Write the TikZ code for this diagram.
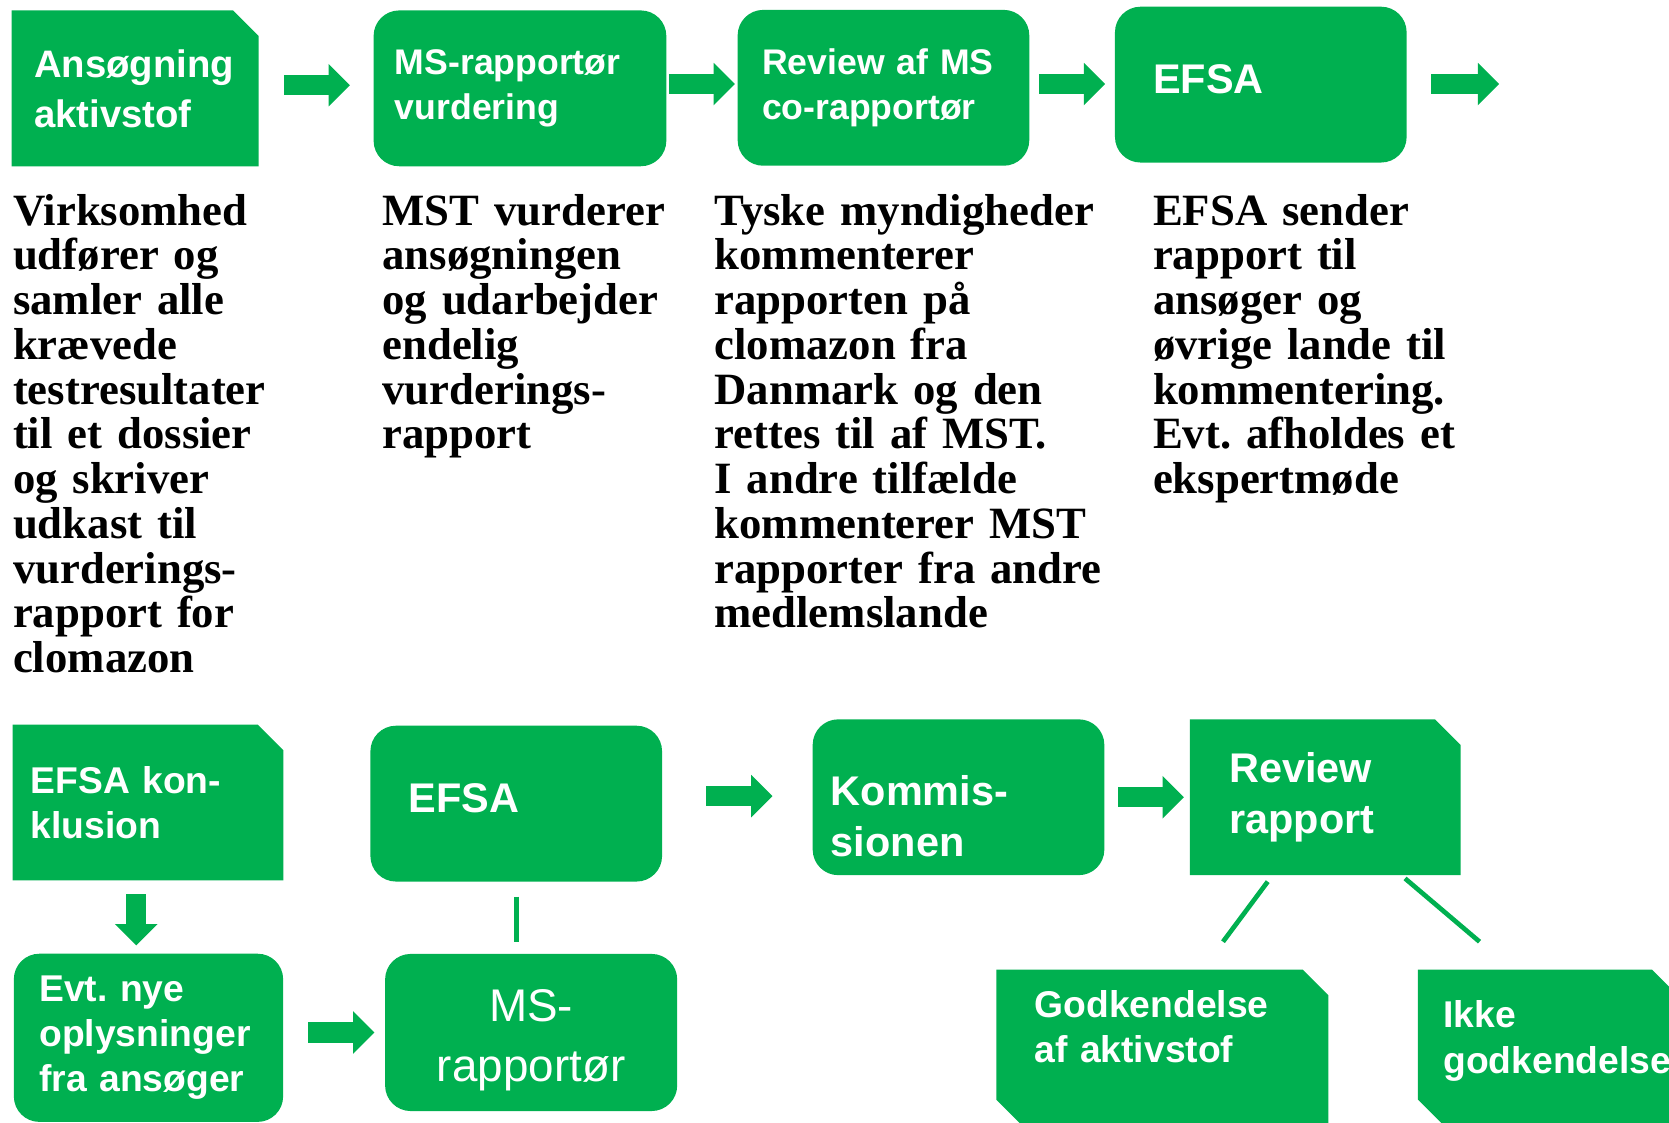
\documentclass[tikz,border=0pt]{standalone}
\usepackage{fontspec}
\setmainfont{Liberation Serif}[WordSpace=0.8]
\newfontfamily\boxfont{Liberation Sans}
\usepackage{tikz}
\usetikzlibrary{arrows.meta}
\definecolor{msgreen}{HTML}{00B050}
\hyphenpenalty=10000
\frenchspacing
\newcommand{\blockarrow}{-{Triangle[length=5mm,width=10mm,line width=0pt]}}
\newcommand{\bodytext}{\bfseries\fontsize{29.9pt}{29.9pt}\selectfont}
\tikzset{
  box/.style={rectangle,inner sep=0pt,text=white,align=left,minimum height=36.6mm},
  roundbox/.style={box,fill=msgreen,rounded corners=6mm},
  snipbox/.style={box,fill=white,path picture={
    \fill[msgreen] (path picture bounding box.south west)
      |- ([xshift=-6mm]path picture bounding box.north east)
      -- ([yshift=-6mm]path picture bounding box.north east)
      -- (path picture bounding box.south east) -- cycle;}},
  snipsnipbox/.style={box,fill=white,path picture={
    \fill[msgreen] ([yshift=6mm]path picture bounding box.south west)
      |- ([xshift=-6mm]path picture bounding box.north east)
      -- ([yshift=-6mm]path picture bounding box.north east)
      -- (path picture bounding box.south east)
      -- ([xshift=6mm]path picture bounding box.south west) -- cycle;}},
  txtsmall/.style={font=\boxfont\bfseries\fontsize{23.8pt}{29.9pt}\selectfont},
  txtmid/.style={font=\boxfont\bfseries\fontsize{24.9pt}{29.9pt}\selectfont},
  txtbig/.style={font=\boxfont\bfseries\fontsize{27.7pt}{34.1pt}\selectfont},
  flow/.style={msgreen,line width=4.75mm},
  link/.style={msgreen,line width=1.1mm},
  note/.style={anchor=base west,inner sep=0pt,align=left,text width=75mm,font=\bodytext}
}

\begin{document}
\begin{tikzpicture}[x=0.25mm,y=-0.25mm]
	\useasboundingbox (0,0) rectangle (1568,1055);
	\clip (0,0) rectangle (1568,1055);
	% top row
	\node[snipbox,minimum width=58mm,text width=47.5mm,font=\boxfont\bfseries\fontsize{25.6pt}{33.4pt}\selectfont] (ans) at (127,83) {Ansøgning\\aktivstof};
	\node[roundbox,txtsmall,minimum width=68.75mm,text width=58.75mm] (vurd) at (488.5,83) {MS-rapportør\\vurdering};
	\node[roundbox,txtsmall,minimum width=68.5mm,text width=57mm] (co) at (830,82.5) {Review af MS\\co-rapportør};
	\node[roundbox,txtbig,minimum width=68.5mm,text width=50.5mm] (efsaA) at (1184.5,79.5) {EFSA\rule[-2.75mm]{0pt}{2.75mm}};
	\coordinate (next) at (1408.4,79);
	\node[note] (virk) at (12,211.5) {Virksomhed\\udfører og\\samler alle\\krævede\\testresultater\\til et dossier\\og skriver\\udkast til\\vurderings-\\rapport for\\clomazon};
	\node[note] (mst) at (359,211.5) {MST vurderer\\ansøgningen\\og udarbejder\\endelig\\vurderings-\\rapport};
	\node[note,text width=95mm] (tysk) at (671,211.5) {Tyske myndigheder\\kommenterer\\rapporten på\\clomazon fra\\Danmark og den\\rettes til af MST.\\I andre tilfælde\\kommenterer MST\\rapporter fra andre\\medlemslande};
	\node[note] (send) at (1083,211.5) {EFSA sender\\rapport til\\ansøger og\\øvrige lande til\\kommentering.\\Evt. afholdes et\\ekspertmøde};
	\draw[flow,\blockarrow] ([shift={(23.3,-3)}]ans.east) -- ([shift={(-22,-3)}]vurd.west);
	\draw[flow,\blockarrow] ([shift={(2,-4)}]vurd.east) -- ([shift={(-2.3,-3.5)}]co.west);
	\draw[flow,\blockarrow] ([shift={(8.8,-3.5)}]co.east) -- ([shift={(-9,-0.5)}]efsaA.west);
	\draw[flow,\blockarrow] ([shift={(23,-0.5)}]efsaA.east) -- (next);
	% bottom row
	\node[snipbox,txtmid,minimum width=63.6mm,text width=55.1mm] (konkl) at (139,754) {EFSA kon-\\klusion};
	\node[roundbox,txtmid,minimum width=63.25mm,minimum height=39.5mm,text width=51.25mm] (nye) at (139.5,975) {Evt. nye\\oplysninger\\fra ansøger};
	\node[roundbox,txtbig,minimum width=68.5mm,text width=50.5mm] (efsaB) at (485,755) {EFSA\rule[-2.75mm]{0pt}{2.75mm}};
	\node[roundbox,align=center,minimum width=68.6mm,minimum height=36.9mm,text width=60mm,font=\boxfont\fontsize{30.6pt}{39.8pt}\selectfont] (msr) at (499,970) {\rule{0pt}{11.2mm}MS-\\rapportør};
	\node[roundbox,txtbig,minimum width=68.5mm,text width=60mm] (komm) at (900.5,749) {\rule{0pt}{16mm}Kommis-\\sionen};
	\node[snipbox,txtbig,minimum width=63.6mm,text width=45.1mm] (rev) at (1245,749) {Review\\rapport};
	\node[snipsnipbox,txtmid,minimum width=78mm,minimum height=36.5mm,text width=60mm] (godk) at (1092,984) {Godkendelse\\af aktivstof\rule[-9.65mm]{0pt}{9.65mm}};
	\node[snipsnipbox,minimum width=61mm,minimum height=36.5mm,text width=49mm,font=\boxfont\bfseries\fontsize{24.9pt}{30.6pt}\selectfont] (ikke) at (1454,984) {Ikke\\godkendelse\rule[-4.8mm]{0pt}{4.8mm}};
	\draw[flow,\blockarrow] ([shift={(-11,12.8)}]konkl.south) -- ([shift={(-11.5,-7.5)}]nye.north);
	\draw[flow,\blockarrow] ([shift={(23.4,-5)}]nye.east) -- ([shift={(-9.8,0)}]msr.west);
	\draw[flow,\blockarrow] ([shift={(41,-7)}]efsaB.east) -- ([shift={(-37.5,-1)}]komm.west);
	\draw[flow,\blockarrow] ([shift={(12.7,0)}]komm.east) -- ([shift={(-5.3,0)}]rev.west);
	\draw[link] ([shift={(0,13.8)}]efsaB.south) -- ([shift={(-14,-11.2)}]msr.north);
	\draw[link] ([shift={(-54,5.8)}]rev.south) -- ([shift={(57,-26)}]godk.north);
	\draw[link] ([shift={(75,2.8)}]rev.south) -- ([shift={(-64,-26)}]ikke.north);
\end{tikzpicture}
\end{document}
